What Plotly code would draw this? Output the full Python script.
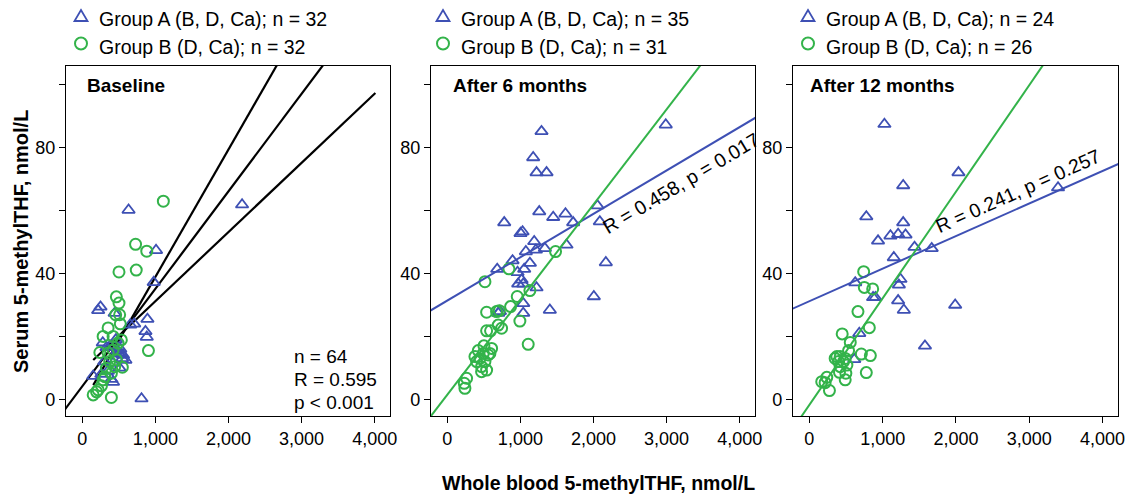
import plotly.graph_objects as go

# ---------------- data ----------------
panel_titles = ["Baseline", "After 6 months", "After 12 months"]
legend_a = ["Group A (B, D, Ca); n = 32", "Group A (B, D, Ca); n = 35", "Group A (B, D, Ca); n = 24"]
legend_b = ["Group B (D, Ca); n = 32", "Group B (D, Ca); n = 31", "Group B (D, Ca); n = 26"]

a1_x = [633, 2186, 1009, 977, 249, 217, 710, 891, 656, 864, 882, 810, 534, 557, 502, 149, 398, 443,
        520, 545, 480, 300, 350, 420, 260, 380, 460, 590, 330, 510, 420, 280]
a1_y = [60.2, 61.9, 47.4, 37.2, 29.4, 28.3, 24.0, 25.5, 23.7, 21.6, 19.8, 0.2, 14.5, 14.1, 14.7, 7.4, 6.4, 27.4,
        16.0, 13.0, 15.5, 12.0, 9.0, 11.5, 8.0, 17.0, 19.0, 12.5, 16.5, 10.0, 5.5, 18.0]
b1_x = [1109, 729, 882, 502, 738, 466, 502, 457, 511, 353, 285, 520, 240, 905, 398, 149, 195, 262, 548, 443,
        330, 375, 489, 421, 534, 308, 398, 466, 353, 421, 217, 285]
b1_y = [63.0, 49.3, 47.1, 40.5, 41.1, 32.6, 30.6, 26.9, 26.9, 22.7, 20.0, 24.0, 14.9, 15.5, 0.6, 1.4, 2.4, 4.3,
        10.2, 10.4, 9.9, 12.0, 17.9, 20.0, 18.9, 7.2, 8.3, 12.6, 14.7, 15.7, 3.0, 6.2]

a2_x = [1289, 2989, 1175, 1221, 1358, 1258, 1449, 1617, 1722, 2055, 2087, 779, 1002, 1030, 1189, 1212, 1335,
        1631, 1075, 893, 683, 1130, 1052, 961, 2169, 1016, 970, 1039, 1221, 2005, 1039, 1039, 1403, 697, 720]
a2_y = [85.2, 87.3, 76.9, 72.1, 72.1, 59.7, 57.9, 59.0, 56.2, 61.6, 56.5, 56.2, 52.8, 53.3, 50.2, 47.5, 48.0,
        49.1, 47.0, 44.1, 41.4, 43.3, 41.4, 40.4, 43.5, 38.0, 36.7, 36.7, 35.5, 32.7, 30.5, 27.4, 28.4, 27.4, 28.0]
b2_x = [1481, 843, 515, 1130, 957, 866, 993, 538, 674, 711, 697, 743, 538, 592, 1107, 424, 501, 606, 447, 560,
        469, 538, 515, 401, 264, 241, 232, 492, 583, 378, 469]
b2_y = [47.0, 41.5, 37.4, 34.6, 32.7, 29.5, 24.9, 27.7, 27.9, 28.2, 23.6, 22.6, 21.8, 21.8, 17.5, 15.5, 17.0,
        16.2, 13.0, 14.1, 8.8, 9.3, 12.0, 12.0, 6.7, 3.5, 5.1, 14.6, 14.6, 13.6, 10.4]

a3_x = [1024, 2034, 3392, 1280, 777, 1280, 937, 1106, 1211, 1312, 1435, 1669, 1152, 626, 1243, 1221, 869, 901,
        1211, 1289, 1989, 1577, 681, 613]
a3_y = [87.5, 72.1, 67.3, 68.0, 58.1, 56.2, 50.4, 52.0, 52.5, 52.3, 48.4, 48.0, 45.1, 37.1, 38.2, 36.4, 32.4,
        32.4, 31.4, 28.4, 30.0, 17.0, 21.0, 12.7]
b3_x = [741, 750, 864, 663, 818, 448, 558, 709, 832, 777, 375, 421, 489, 535, 398, 466, 411, 498, 489, 238, 169,
        215, 274, 421, 352, 512]
b3_y = [40.6, 35.6, 35.1, 27.9, 22.8, 20.8, 18.1, 14.4, 13.9, 8.5, 13.6, 13.6, 13.0, 15.5, 12.0, 12.0, 8.6, 8.3,
        6.2, 7.0, 5.6, 5.3, 2.8, 10.4, 13.0, 10.9]

# baseline: three black lines (intercept, slope, x start, x end)
base_int = [-1.56, 4.15, 9.2]
base_slope = [0.0405, 0.031, 0.022]
base_x0 = [150, -400, 150]
base_x1 = [3200, 3800, 4010]
# fitted lines for panels 2 and 3: [blue(A), green(B)]
fit_int = {2: [31.4, 1.45], 3: [31.2, -1.77]}
fit_slope = {2: [0.01379, 0.03025], 3: [0.01036, 0.0339]}
fit_text = {2: "R = 0.458, p = 0.017", 3: "R = 0.241, p = 0.257"}
stats_text = ["n = 64", "R = 0.595", "p < 0.001"]

# ---------------- styling ----------------
BLUE = "#3E50B4"
GREEN = "#33B34A"
FONT = "Arial, Liberation Sans, sans-serif"
W, H = 1141, 497
ML, MR, MT, MB = 66, 23, 66, 81
PW, PH = W - ML - MR, H - MT - MB
XR = [-223, 4210]
YR = [-5.3, 106]
panel_px = [(66, 390), (431, 755), (793, 1118)]


def px2x(px):
    return (px - ML) / PW


def py2y(py):
    return (H - MB - py) / PH


fig = go.Figure()
sets = [(a1_x, a1_y, b1_x, b1_y), (a2_x, a2_y, b2_x, b2_y), (a3_x, a3_y, b3_x, b3_y)]

for i, (ax_, ay_, bx_, by_) in enumerate(sets, start=1):
    xa = "x" if i == 1 else f"x{i}"
    ya = "y" if i == 1 else f"y{i}"
    if i == 1:
        for a, b, x0, x1 in zip(base_int, base_slope, base_x0, base_x1):
            fig.add_trace(go.Scatter(x=[x0, x1], y=[a + b * x0, a + b * x1], mode="lines",
                                     line=dict(color="black", width=2.2), xaxis=xa, yaxis=ya,
                                     showlegend=False, hoverinfo="skip"))
    fig.add_trace(go.Scatter(x=ax_, y=ay_, mode="markers", xaxis=xa, yaxis=ya, showlegend=False,
                             marker=dict(symbol="triangle-up-open", size=11, color=BLUE,
                                         line=dict(width=1.8, color=BLUE))))
    fig.add_trace(go.Scatter(x=bx_, y=by_, mode="markers", xaxis=xa, yaxis=ya, showlegend=False,
                             marker=dict(symbol="circle-open", size=11, color=GREEN,
                                         line=dict(width=2, color=GREEN))))
    if i > 1:
        for k, col in enumerate([BLUE, GREEN]):
            a, b = fit_int[i][k], fit_slope[i][k]
            xs = [-400, 4500]
            fig.add_trace(go.Scatter(x=xs, y=[a + b * v for v in xs], mode="lines",
                                     line=dict(color=col, width=2), xaxis=xa, yaxis=ya,
                                     showlegend=False, hoverinfo="skip"))

axis_common = dict(showgrid=False, zeroline=False, showline=True, linecolor="black", linewidth=1.3,
                   mirror=True, ticks="outside", ticklen=6, tickwidth=1.3, tickcolor="black",
                   tickfont=dict(family=FONT, size=18, color="black"))

layout = dict(width=W, height=H, margin=dict(l=ML, r=MR, t=MT, b=MB),
              plot_bgcolor="white", paper_bgcolor="white", showlegend=False,
              font=dict(family=FONT, color="black"))
for i, (p0, p1) in enumerate(panel_px, start=1):
    sx = "" if i == 1 else str(i)
    layout[f"xaxis{sx}"] = dict(axis_common, domain=[px2x(p0), px2x(p1)], range=XR,
                                tickvals=[0, 1000, 2000, 3000, 4000], tickformat=",",
                                anchor=f"y{sx}")
    layout[f"yaxis{sx}"] = dict(axis_common, domain=[0, 1], range=YR, tickvals=[0, 40, 80],
                                minor=dict(tickvals=[20, 60, 100], ticks="outside", ticklen=6,
                                           tickwidth=1.3, tickcolor="black"),
                                anchor=f"x{sx}")
fig.update_layout(**layout)

ann = []
shapes = []
legend_x_px = [81, 443, 808]
title_x_px = [85, 451, 808]
for i in range(3):
    lx = legend_x_px[i]
    shapes.append(dict(type="path", xref="paper", yref="paper", xsizemode="pixel", ysizemode="pixel",
                       xanchor=px2x(lx), yanchor=py2y(16), path="M-6.5,-5 L6.5,-5 L0,6 Z",
                       line=dict(color=BLUE, width=1.8)))
    shapes.append(dict(type="circle", xref="paper", yref="paper", xsizemode="pixel", ysizemode="pixel",
                       xanchor=px2x(lx), yanchor=py2y(43.5), x0=-6, x1=6, y0=-6, y1=6,
                       line=dict(color=GREEN, width=2)))
    ann.append(dict(text=legend_a[i], xref="paper", yref="paper", x=px2x(lx + 16), y=py2y(18.5),
                    xanchor="left", yanchor="middle", showarrow=False, font=dict(size=19.5, family=FONT)))
    ann.append(dict(text=legend_b[i], xref="paper", yref="paper", x=px2x(lx + 16), y=py2y(46.5),
                    xanchor="left", yanchor="middle", showarrow=False, font=dict(size=19.5, family=FONT)))
    ann.append(dict(text="<b>" + panel_titles[i] + "</b>", xref="paper", yref="paper",
                    x=px2x(title_x_px[i]), y=py2y(85), xanchor="left", yanchor="middle",
                    showarrow=False, font=dict(size=19, family=FONT)))

for j, t in enumerate(stats_text):
    ann.append(dict(text=t, xref="paper", yref="paper", x=px2x(292), y=py2y(356 + 23 * j),
                    xanchor="left", yanchor="middle", showarrow=False, font=dict(size=19, family=FONT)))

ann.append(dict(text=fit_text[2], xref="x2", yref="y2", x=3200, y=68.8, textangle=-30.7,
                showarrow=False, font=dict(size=19.5, family=FONT)))
ann.append(dict(text=fit_text[3], xref="x3", yref="y3", x=2840, y=66.3, textangle=-24,
                showarrow=False, font=dict(size=19.5, family=FONT)))

ann.append(dict(text="<b>Whole blood 5-methylTHF, nmol/L</b>", xref="paper", yref="paper",
                x=px2x(598), y=py2y(483), xanchor="center", yanchor="middle", showarrow=False,
                font=dict(size=19.5, family=FONT)))
ann.append(dict(text="<b>Serum 5-methylTHF, nmol/L</b>", xref="paper", yref="paper",
                x=px2x(21), y=py2y(242), xanchor="center", yanchor="middle", textangle=-90,
                showarrow=False, font=dict(size=20, family=FONT)))

fig.update_layout(annotations=ann, shapes=shapes)
fig.write_html("out.html")
